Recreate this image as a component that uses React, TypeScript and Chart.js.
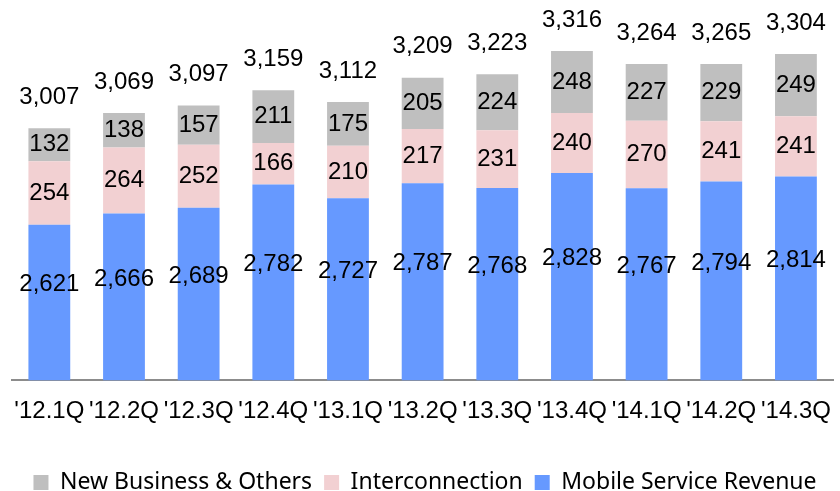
import React, { useEffect, useRef } from "react";
import { Chart, registerables } from "chart.js";

Chart.register(...registerables);

const categories = ["'12.1Q", "'12.2Q", "'12.3Q", "'12.4Q", "'13.1Q", "'13.2Q", "'13.3Q", "'13.4Q", "'14.1Q", "'14.2Q", "'14.3Q"];
const mobileService = [2621, 2666, 2689, 2782, 2727, 2787, 2768, 2828, 2767, 2794, 2814];
const interconnection = [254, 264, 252, 166, 210, 217, 231, 240, 270, 241, 241];
const newBusiness = [132, 138, 157, 211, 175, 205, 224, 248, 227, 229, 249];
const totals = [3007, 3069, 3097, 3159, 3112, 3209, 3223, 3316, 3264, 3265, 3304];

const fmt = (v: number) => v.toLocaleString("en-US");
const LABEL_FONT = '24px "Liberation Sans", Arial, sans-serif';

const labelPlugin = {
  id: "valueLabels",
  afterDatasetsDraw(chart: any) {
    const ctx = chart.ctx;
    const area = chart.chartArea;
    ctx.save();
    ctx.font = LABEL_FONT;
    ctx.fillStyle = "#000";
    ctx.textAlign = "center";
    ctx.textBaseline = "middle";
    chart.data.datasets.forEach((ds: any, di: number) => {
      const meta = chart.getDatasetMeta(di);
      meta.data.forEach((bar: any, i: number) => {
        const base = Math.min(bar.base, area.bottom);
        let cy = (bar.y + base) / 2;
        if (di === 0) cy -= 18;
        ctx.fillText(fmt(ds.data[i]), bar.x, cy);
      });
    });
    const last = chart.data.datasets.length - 1;
    chart.getDatasetMeta(last).data.forEach((bar: any, i: number) => {
      ctx.fillText(fmt(totals[i]), bar.x, bar.y - 31);
    });
    ctx.restore();
  },
};

export default function App() {
  const ref = useRef<HTMLCanvasElement | null>(null);
  useEffect(() => {
    document.body.style.margin = "0";
    const canvas = ref.current!;
    const chart = new Chart(canvas, {
      type: "bar",
      data: {
        labels: categories,
        datasets: [
          { label: "Mobile Service Revenue", data: mobileService, backgroundColor: "#6699FF", barPercentage: 0.56, categoryPercentage: 1 },
          { label: "Interconnection", data: interconnection, backgroundColor: "#F2D0D2", barPercentage: 0.56, categoryPercentage: 1 },
          { label: "New Business & Others", data: newBusiness, backgroundColor: "#BFBFBF", barPercentage: 0.56, categoryPercentage: 1 },
        ],
      },
      options: {
        responsive: false,
        animation: false,
        layout: { padding: { left: 12, right: 2, top: 0, bottom: -13 } },
        scales: {
          x: {
            stacked: true,
            grid: { display: false },
            border: { display: true, color: "#8C8C8C", width: 2 },
            ticks: {
              color: "#000",
              font: { family: '"Liberation Sans", Arial, sans-serif', size: 24 },
              maxRotation: 0,
              autoSkip: false,
              padding: 9,
            },
            afterFit: (axis: any) => {
              axis.height += 24;
            },
          },
          y: {
            stacked: true,
            display: false,
            min: 2000,
            max: 3520,
          },
        },
        plugins: {
          legend: {
            position: "bottom",
            reverse: true,
            labels: {
              color: "#000",
              boxWidth: 15,
              boxHeight: 15,
              padding: 12,
              font: { family: '"Noto Sans", "Open Sans", sans-serif', size: 23 },
            },
          },
          tooltip: { enabled: false },
        },
      },
      plugins: [labelPlugin],
    });
    return () => chart.destroy();
  }, []);
  return <canvas ref={ref} width={840} height={491} style={{ display: "block" }} />;
}
